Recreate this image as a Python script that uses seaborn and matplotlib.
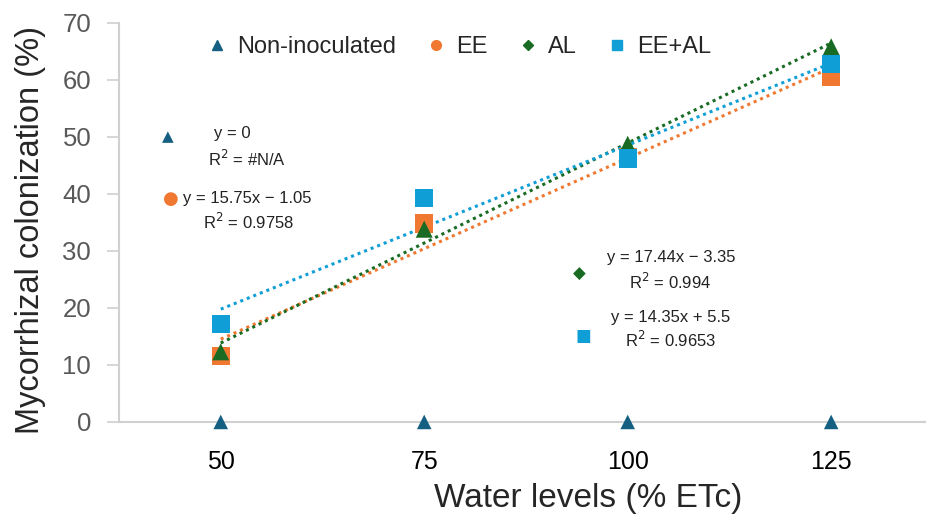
import numpy as np
import pandas as pd
import matplotlib
matplotlib.use("Agg")
import matplotlib.pyplot as plt
from matplotlib.lines import Line2D
import seaborn as sns

# data
water_levels = ["50", "75", "100", "125"]
non_inoculated = [0, 0, 0, 0]
ee = [11.5, 34.8, 46.5, 60.5]
al = [12.3, 33.8, 48.7, 65.8]
ee_al = [17.2, 39.2, 46.2, 62.8]

# trendline labels as printed on the chart (one entry per line of text)
eq_lines = {
    "Non-inoculated": ["y = 0", "R$^2$ = #N/A"],
    "EE": ["y = 15.75x \u2212 1.05", "R$^2$ = 0.9758"],
    "AL": ["y = 17.44x \u2212 3.35", "R$^2$ = 0.994"],
    "EE+AL": ["y = 14.35x + 5.5", "R$^2$ = 0.9653"],
}

sns.set_style("white")
plt.rcParams["font.family"] = ["Liberation Sans", "DejaVu Sans"]

colors = {"Non-inoculated": "#156082", "EE": "#F07830", "AL": "#196B24", "EE+AL": "#0F9ED5"}
pt_markers = {"Non-inoculated": "^", "EE": "s", "AL": "^", "EE+AL": "s"}
pt_sizes = {"Non-inoculated": 110, "EE": 170, "AL": 150, "EE+AL": 170}
leg_markers = {"Non-inoculated": "^", "EE": "o", "AL": "D", "EE+AL": "s"}

series = {"Non-inoculated": non_inoculated, "EE": ee, "AL": al, "EE+AL": ee_al}
xpos = np.arange(1, len(water_levels) + 1)

fig = plt.figure(figsize=(9.26, 5.19), dpi=100)
ax = fig.add_axes([0.1285, 0.187, 0.8715, 0.769])

for name, vals in series.items():
    df = pd.DataFrame({"x": xpos, "y": vals})
    nonin = name == "Non-inoculated"
    sns.regplot(data=df, x="x", y="y", scatter=False, ci=None, truncate=True, ax=ax,
                line_kws={"color": colors[name], "ls": (0, (1, 1.3)), "lw": 1.4 if nonin else 2.2,
                          "alpha": 0.6 if nonin else 1, "zorder": 2, "clip_on": False})

for name, vals in series.items():
    sns.scatterplot(x=xpos, y=vals, marker=pt_markers[name], color=colors[name], s=pt_sizes[name],
                    edgecolor="none", ax=ax, zorder=3, clip_on=False)

ax.set_xlim(0.5, 4.466)
ax.set_ylim(0, 70)
ax.set_xticks(xpos)
ax.set_xticklabels(water_levels)
ax.set_yticks(range(0, 71, 10))
ax.tick_params(axis="x", length=0, labelsize=18, labelcolor="black", pad=20)
ax.tick_params(axis="y", length=9, width=1.2, color="#d0d0d0", labelsize=18.5, labelcolor="#595959", pad=11, left=True)
for s in ["top", "right"]:
    ax.spines[s].set_visible(False)
for s in ["left", "bottom"]:
    ax.spines[s].set_color("#d0d0d0")
    ax.spines[s].set_linewidth(1.5)

ax.set_xlabel("Water levels (% ETc)", fontsize=24)
ax.set_ylabel("Mycorrhizal colonization (%)", fontsize=23.5)
ax.xaxis.set_label_coords(0.581, -0.152)
ax.yaxis.set_label_coords(-0.09, 0.481)

# trendline equation labels with their key glyphs
glyphs = {"Non-inoculated": "\u25B2", "EE": "\u25CF", "AL": "\u25C6", "EE+AL": "\u25A0"}
line_pos = {"Non-inoculated": [(0.140, 0.722), (0.159, 0.659)],
            "EE": [(0.159, 0.559), (0.160, 0.501)],
            "AL": [(0.684, 0.411), (0.683, 0.351)],
            "EE+AL": [(0.683, 0.261), (0.683, 0.206)]}
glyph_pos = {"Non-inoculated": (0.061, 0.714), "EE": (0.064, 0.559),
             "AL": (0.571, 0.371), "EE+AL": (0.575, 0.216)}
glyph_size = {"Non-inoculated": 11, "EE": 13, "AL": 12, "EE+AL": 12}
for name in series:
    for txt, (fx, fy) in zip(eq_lines[name], line_pos[name]):
        ax.text(fx, fy, txt, transform=ax.transAxes, ha="center", va="center",
                fontsize=12, color="#222222")
    ax.text(*glyph_pos[name], glyphs[name], transform=ax.transAxes, ha="center", va="center",
            fontsize=glyph_size[name], color=colors[name], family=["DejaVu Sans"])

handles = [Line2D([], [], ls="none", marker=leg_markers[n], color=colors[n],
                  markersize=7 if n != "AL" else 5.5) for n in series]
ax.legend(handles, list(series), loc="center", bbox_to_anchor=(0.42, 0.94), ncol=4,
          frameon=False, fontsize=17, handletextpad=0.35, columnspacing=1.2, handlelength=1.0)

fig.savefig("out.png", dpi=100)
